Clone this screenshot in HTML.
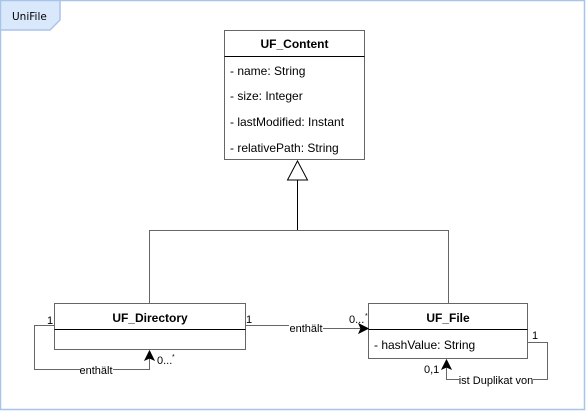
<!DOCTYPE html>
<html><head><meta charset="utf-8"><style>
html,body{margin:0;padding:0;background:#fff;}
svg{display:block;}
</style></head><body>
<svg width="586" height="411" viewBox="0 0 586 411" xmlns="http://www.w3.org/2000/svg" font-family="'Liberation Sans', Arial, sans-serif">
<rect x="0.5" y="0.5" width="584" height="409" fill="#fff" stroke="#a9c4eb" stroke-width="1.5"/>
<path d="M0.5 0.5 H60 V20 L50 30 H0.5 Z" fill="#dae8fc" stroke="#a9c4eb" stroke-width="1.5"/>
<text x="12" y="20" font-family="'DejaVu Sans', Verdana, sans-serif" font-size="10.5">UniFile</text>

<g font-family="'Liberation Sans', Arial, sans-serif">
<!-- UF_Content -->
<rect x="224.5" y="30.5" width="140" height="129" fill="#fff" stroke="#666" stroke-width="1"/>
<line x1="224.5" y1="56.5" x2="364.5" y2="56.5" stroke="#000"/>
<text x="294.5" y="48" font-size="12" font-weight="bold" text-anchor="middle">UF_Content</text>
<text x="230" y="75" font-size="12">- name: String</text>
<text x="230" y="100" font-size="12">- size: Integer</text>
<text x="230" y="126" font-size="12">- lastModified: Instant</text>
<text x="230" y="152" font-size="12">- relativePath: String</text>

<path d="M297.5 180 V230.5 M149.5 303 V230.5 H448.5 V303" fill="none" stroke="#666" stroke-width="1"/>
<line x1="297.5" y1="180" x2="297.5" y2="230" stroke="#000"/>
<path d="M297.5 161 L307.5 180 H287.5 Z" fill="#fff" stroke="#000"/>

<rect x="54.5" y="303.5" width="191" height="46" fill="#fff" stroke="#666"/>
<line x1="54.5" y1="329.5" x2="245.5" y2="329.5" stroke="#000"/>
<text x="150" y="322" font-size="12" font-weight="bold" text-anchor="middle">UF_Directory</text>

<rect x="368.5" y="303.5" width="159" height="55" fill="#fff" stroke="#666"/>
<line x1="368.5" y1="329.5" x2="527.5" y2="329.5" stroke="#000"/>
<text x="448" y="322" font-size="12" font-weight="bold" text-anchor="middle">UF_File</text>
<text x="374" y="349" font-size="12">- hashValue: String</text>

<path d="M245.5 325.5 H300 V328.5 H362" fill="none" stroke="#666"/>
<path d="M368 328.5 L359 333 L361 328.5 L359 324 Z" fill="#000" stroke="#000"/>
<rect x="289" y="322" width="34" height="11" fill="#fff"/>
<text x="306" y="332" font-size="11" text-anchor="middle">enthält</text>
<text x="246" y="323" font-size="11">1</text>
<text x="349" y="323" font-size="11">0...</text>
<text x="365" y="318" font-size="7">*</text>

<path d="M54.5 325.5 H34.5 V369.5 H149.5 V357" fill="none" stroke="#666"/>
<path d="M149.5 351 L154 360 L149.5 358 L145 360 Z" fill="#000" stroke="#000"/>
<rect x="80" y="364" width="33" height="11" fill="#fff"/>
<text x="96" y="374" font-size="11" text-anchor="middle">enthält</text>
<text x="47" y="324" font-size="11">1</text>
<text x="157" y="364" font-size="11">0...</text>
<text x="172" y="359" font-size="7">*</text>

<path d="M527.5 342.5 H547.5 V379.5 H446.5 V366" fill="none" stroke="#666"/>
<path d="M446.5 360 L451 369 L446.5 367 L442 369 Z" fill="#000" stroke="#000"/>
<rect x="459" y="374" width="74" height="11" fill="#fff"/>
<text x="496" y="384" font-size="11" text-anchor="middle">ist Duplikat von</text>
<text x="532" y="339" font-size="11">1</text>
<text x="424" y="373" font-size="11">0,1</text>
</g>
</svg>
</body></html>
